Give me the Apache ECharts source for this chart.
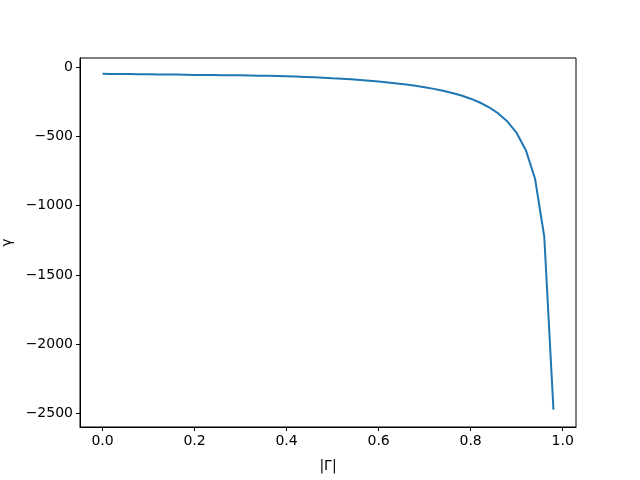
<!DOCTYPE html>
<html>
<head>
<meta charset="utf-8">
<script src="https://cdn.jsdelivr.net/npm/echarts@6/dist/echarts.min.js"></script>
<style>html,body{margin:0;padding:0;background:#fff}#c{width:640px;height:480px}</style>
</head>
<body>
<div id="c"></div>
<script>
const gammaMag = [0.00,0.02,0.04,0.06,0.08,0.10,0.12,0.14,0.16,0.18,0.20,0.22,0.24,0.26,0.28,0.30,0.32,0.34,0.36,0.38,0.40,0.42,0.44,0.46,0.48,0.50,0.52,0.54,0.56,0.58,0.60,0.62,0.64,0.66,0.68,0.70,0.72,0.74,0.76,0.78,0.80,0.82,0.84,0.86,0.88,0.90,0.92,0.94,0.96,0.98];
const gammaVals = [-49.5,-50.0,-50.6,-51.2,-51.8,-52.5,-53.2,-54.1,-54.9,-55.9,-56.9,-57.5,-58.1,-58.9,-59.8,-60.2,-61.3,-62.5,-63.8,-65.3,-67.0,-69.3,-71.9,-74.7,-77.7,-81.0,-84.1,-88.6,-93.5,-98.9,-104.8,-111.3,-118.5,-126.6,-135.7,-146.0,-157.8,-171.4,-187.3,-206.0,-228.5,-256.0,-290.4,-334.6,-393.5,-476.0,-599.8,-806.0,-1222.5,-2473.0];
const xTicks = [0,0.2,0.4,0.6,0.8,1.0];
const yTicks = [0,-500,-1000,-1500,-2000,-2500];

const font = 'DejaVu Sans';
const chart = echarts.init(document.getElementById('c'), null, {renderer:'canvas'});
const data = gammaMag.map((x,i)=>[x,gammaVals[i]]);
chart.setOption({
  animation:false,
  backgroundColor:'#fff',
  grid:{left:80,right:64,top:58,bottom:53,containLabel:false,outerBoundsMode:'none',
    show:true,borderColor:'#000',borderWidth:1,backgroundColor:'transparent'},
  xAxis:{type:'value',min:-0.049,max:1.029,
    name:'|Γ|',nameLocation:'middle',nameGap:32,
    nameTextStyle:{fontFamily:font,fontSize:14,color:'#000'},
    axisLine:{show:true,onZero:false,lineStyle:{color:'#000',width:1}},
    axisTick:{show:true,inside:false,length:4,customValues:xTicks,lineStyle:{color:'#000'}},
    axisLabel:{show:true,customValues:xTicks,margin:7,fontFamily:font,fontSize:14,color:'#000',
      formatter:v=>v.toFixed(1)},
    splitLine:{show:false}},
  yAxis:{type:'value',min:-2597,max:65,
    name:'γ',nameLocation:'middle',nameGap:55,nameRotate:90,
    nameTextStyle:{fontFamily:font,fontSize:14,color:'#000'},
    axisLine:{show:true,onZero:false,lineStyle:{color:'#000',width:1}},
    axisTick:{show:true,inside:false,length:4,customValues:yTicks,lineStyle:{color:'#000'}},
    axisLabel:{show:true,customValues:yTicks,margin:7,fontFamily:font,fontSize:14,color:'#000',
      formatter:v=>String(Math.round(v)).replace('-','\u2212')},
    splitLine:{show:false}},
  series:[{type:'line',data:data,showSymbol:false,symbol:'none',
    lineStyle:{color:'#1f77b4',width:2},itemStyle:{color:'#1f77b4'}}]
});
</script>
</body>
</html>
